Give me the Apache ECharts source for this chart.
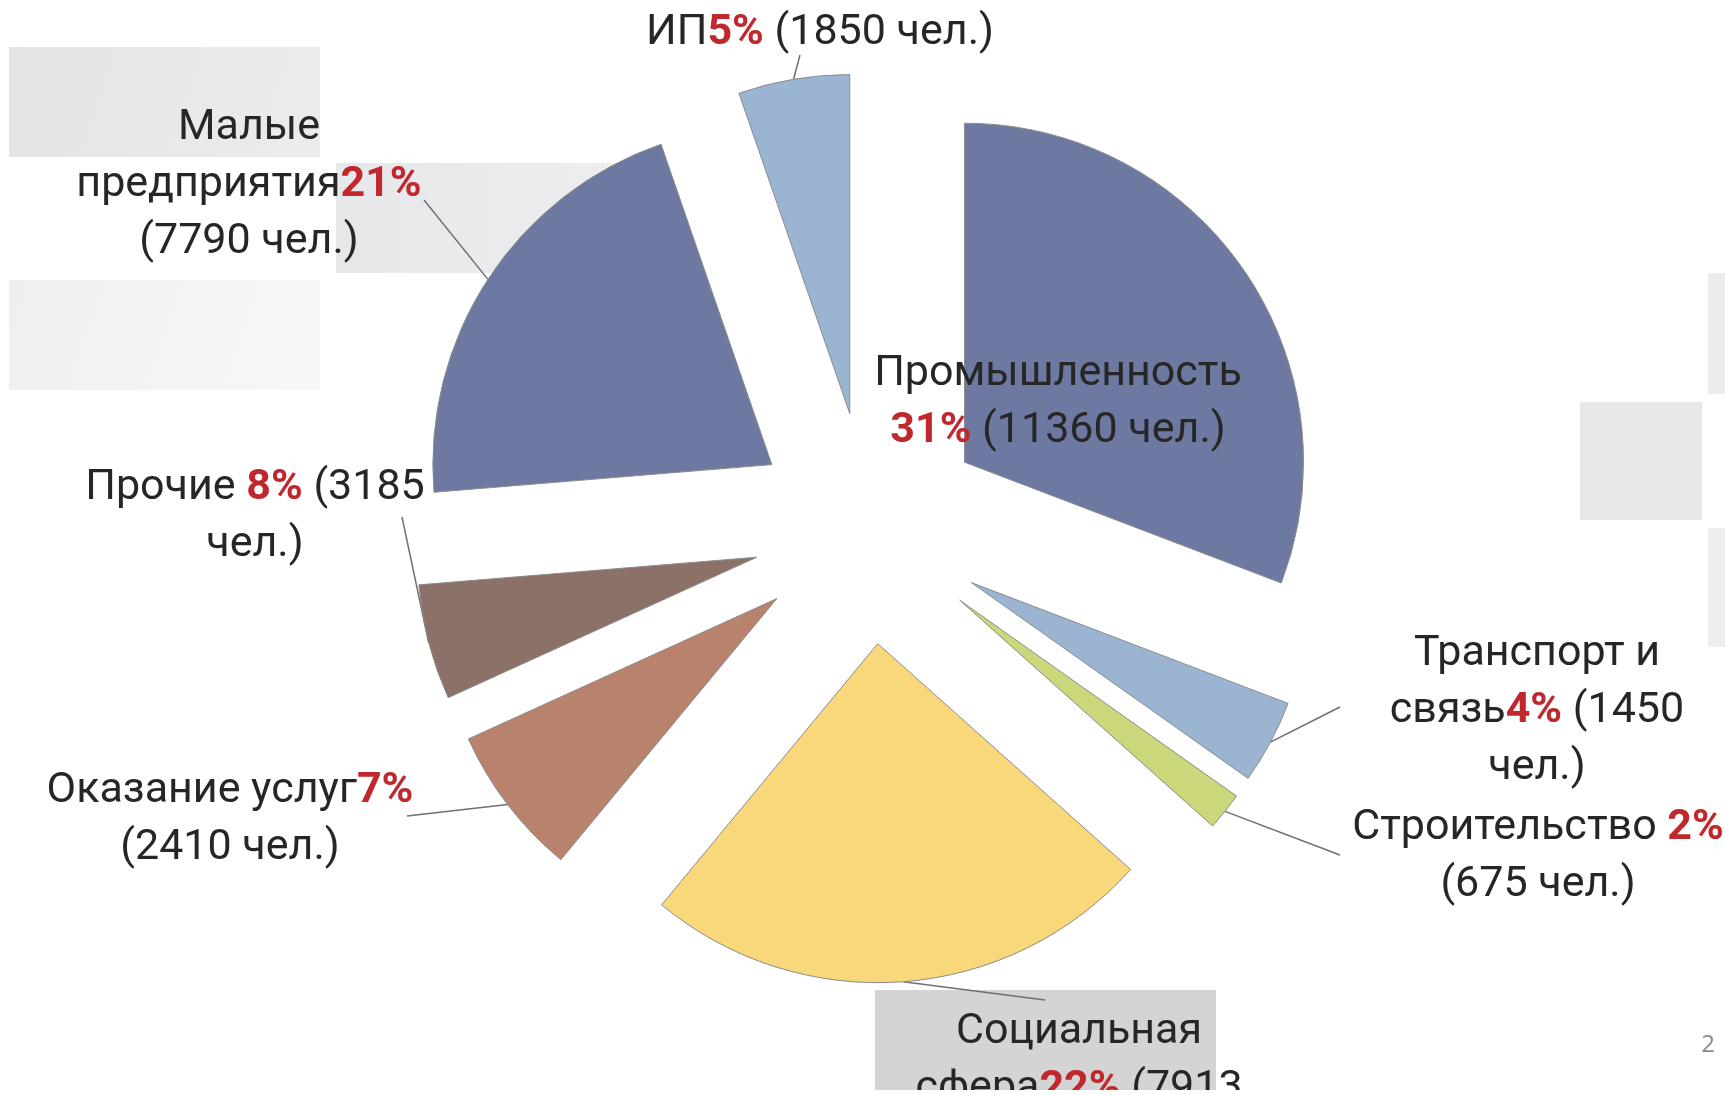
<!DOCTYPE html>
<html>
<head>
<meta charset="utf-8">
<script src="https://cdn.jsdelivr.net/npm/echarts@6/dist/echarts.min.js"></script>
<style>
  html, body { margin: 0; padding: 0; background: #fff; }
  #main { width: 1725px; height: 1095px; }
</style>
</head>
<body>
<div id="main"></div>
<script>
// данные
var sectors = ['Промышленность', 'Транспорт и связь', 'Строительство', 'Социальная сфера',
  'Оказание услуг', 'Прочие', 'Малые предприятия', 'ИП'];
var people = [11360, 1450, 675, 7913, 2410, 3185, 7790, 1850];
var pctLabels = ['31%', '4%', '2%', '22%', '7%', '8%', '21%', '5%'];
// доли секторов, как они нарисованы на исходной диаграмме
var sliceShare = [30.8, 4.0, 1.8, 24.4, 7.2, 5.5, 21.0, 5.3];

// как разбиты строки в подписях
var headText = ['Промышленность\n', 'Транспорт и\nсвязь', 'Строительство ', 'Социальная\nсфера',
  'Оказание услуг', 'Прочие ', 'Малые\nпредприятия', 'ИП'];
var sepA = [' ', ' ', '\n', ' ', '\n', ' ', '\n', ' '];
var sepB = [' ', '\n', ' ', '\n', ' ', '\n', ' ', ' '];

var colors = ['#6e79a2', '#9ab4d2', '#cbd77a', '#f9d77b', '#b8826c', '#8c7168', '#6e79a2', '#9ab4d2'];
// где стоят подписи и где кончаются выноски
var labelPos = [[1058, 403], [1537, 711], [1538, 857], [1079, 1089],
  [230, 820], [255, 517], [249, 185], [820, 33]];
var lineEnd = [null, [1340, 707], [1340, 855], [1045, 1000],
  [407, 816], [402, 517], [424, 200], [800, 55]];

var pieCenter = [869, 528];
var pieRadius = 339;
var explode = 116;

var chart = echarts.init(document.getElementById('main'));

var total = 0;
for (let i = 0; i < sliceShare.length; i++) total += sliceShare[i];

var series = [];
var cum = 0;
for (let i = 0; i < sectors.length; i++) {
  let start = 90 - cum / total * 360;
  let mid = (90 - (cum + sliceShare[i] / 2) / total * 360) * Math.PI / 180;
  let cx = pieCenter[0] + Math.cos(mid) * explode;
  let cy = pieCenter[1] - Math.sin(mid) * explode;
  cum += sliceShare[i];
  series.push({
    type: 'pie',
    name: sectors[i],
    center: [cx, cy],
    radius: pieRadius,
    startAngle: start,
    clockwise: true,
    avoidLabelOverlap: false,
    emphasis: { disabled: true },
    label: {
      show: true,
      position: 'outside',
      fontFamily: 'Roboto',
      fontSize: 43,
      lineHeight: 57,
      color: '#262626',
      formatter: function () {
        return headText[i] + '{r|' + pctLabels[i] + '}' + sepA[i] + '(' + people[i] + sepB[i] + 'чел.)';
      },
      rich: {
        r: { color: '#c0282d', fontWeight: 'bold', fontFamily: 'Roboto', fontSize: 43, lineHeight: 57 }
      }
    },
    labelLine: {
      show: i !== 0,
      length: 10,
      length2: 10,
      lineStyle: { color: '#6f6f6f', width: 1.5 }
    },
    labelLayout: function (params) {
      var res = { x: labelPos[i][0], y: labelPos[i][1], align: 'center', verticalAlign: 'middle' };
      var pts = params.labelLinePoints;
      if (lineEnd[i] && pts) {
        res.labelLinePoints = [pts[0], lineEnd[i], lineEnd[i]];
      }
      return res;
    },
    data: [
      { name: sectors[i], value: sliceShare[i],
        itemStyle: { color: colors[i], borderColor: '#8c8c8c', borderWidth: 1 } },
      { name: '', value: total - sliceShare[i], silent: true,
        itemStyle: { color: 'rgba(0,0,0,0)', borderWidth: 0 },
        label: { show: false }, labelLine: { show: false } }
    ]
  });
}

var option = {
  backgroundColor: '#ffffff',
  animation: false,
  graphic: [
    { type: 'rect', shape: { x: 9, y: 47, width: 311, height: 110 },
      style: { fill: new echarts.graphic.LinearGradient(0, 0, 1, 1, [
        { offset: 0, color: '#e3e4e6' }, { offset: 1, color: '#ececed' }]) } },
    { type: 'rect', shape: { x: 336, y: 163, width: 300, height: 110 },
      style: { fill: new echarts.graphic.LinearGradient(0, 0, 1, 0, [
        { offset: 0, color: '#e6e7e9' }, { offset: 1, color: '#eeeeef' }]) } },
    { type: 'rect', shape: { x: 9, y: 280, width: 311, height: 110 },
      style: { fill: new echarts.graphic.LinearGradient(0, 0, 1, 1, [
        { offset: 0, color: '#eeefef' }, { offset: 1, color: '#f8f8f8' }]) } },
    { type: 'rect', shape: { x: 1708, y: 273, width: 17, height: 121 }, style: { fill: '#ebeced' } },
    { type: 'rect', shape: { x: 1580, y: 402, width: 122, height: 118 }, style: { fill: '#e7e8ea' } },
    { type: 'rect', shape: { x: 1708, y: 528, width: 17, height: 119 }, style: { fill: '#eeeeef' } },
    { type: 'rect', shape: { x: 875, y: 990, width: 341, height: 100 }, style: { fill: '#d4d4d4' } },
    { type: 'text', x: 1708, y: 1045, style: { text: '2', fill: '#8a8a8a', font: '24px "Open Sans"',
      textAlign: 'center', textVerticalAlign: 'middle' } },
    // нижний край слайда обрезан
    { type: 'rect', z: 100, shape: { x: 0, y: 1090, width: 1725, height: 5 }, style: { fill: '#ffffff' } }
  ],
  series: series
};

chart.setOption(option);
</script>
</body>
</html>
